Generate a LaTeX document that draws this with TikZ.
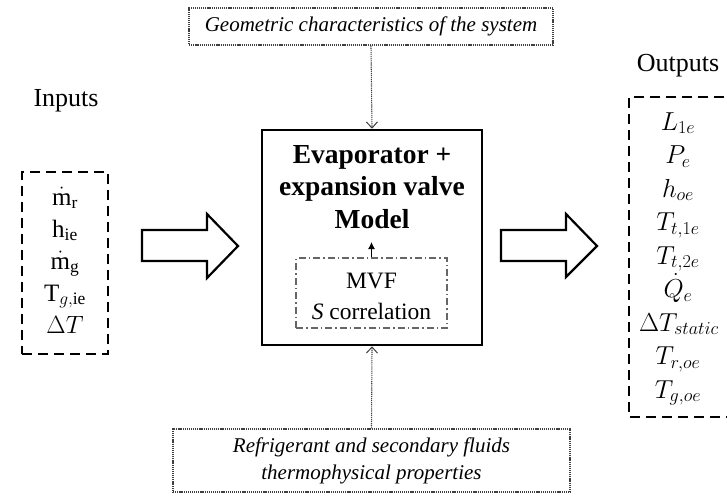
\RequirePackage{fix-cm}
\documentclass[tikz,border=0pt]{standalone}
\usepackage{fontspec}
\setmainfont{Liberation Serif}
\usetikzlibrary{arrows.meta}
\tikzset{
  iobox/.style={draw=black, line width=2pt, dash pattern=on 10pt off 6pt},
  mainbox/.style={draw=black, line width=2.6pt},
  dotbox/.style={draw=black!75, line width=1.1pt, dash pattern=on 1.2pt off 0.9pt},
  innerbox/.style={draw=black!60, line width=1.2pt, dash pattern=on 7pt off 3pt on 1.5pt off 3pt},
  dotconn/.style={draw=black!75, line width=1.1pt, dash pattern=on 1.2pt off 0.9pt, -{Straight Barb[length=6pt,width=11pt,line width=1pt]}},
  blockarrow/.style={draw=black, line width=2.2pt, line join=miter, fill=white},
  lbl/.style={font=\fontsize{26}{30}\selectfont},
  invar/.style={anchor=base, inner sep=0pt, font=\fontsize{25}{30}\selectfont},
  outvar/.style={anchor=base, inner sep=0pt, font=\fontsize{26}{30}\selectfont},
}
\begin{document}
\begin{tikzpicture}[x=1pt,y=-1pt]
\useasboundingbox (0,0) rectangle (727,495);
% labels
\node[lbl] (inlbl) at (66,101) {Inputs};
\node[lbl] (outlbl) at (678,66) {Outputs};
% input box
\node[iobox, minimum width=86pt, minimum height=182pt] (inbox) at (65,263) {};
\node[invar] (in1) at (65,205) {$\dot{\mathrm{m}}_{\mathrm{r}}$};
\node[invar] (in2) at (65,237) {$\mathrm{h}_{\mathrm{ie}}$};
\node[invar] (in3) at (65,269) {$\dot{\mathrm{m}}_{\mathrm{g}}$};
\node[invar] (in4) at (65,301) {$\mathrm{T}_{g,\mathrm{ie}}$};
\node[invar] (in5) at (65,333) {$\Delta T$};
% output box (right side runs off the picture)
\draw[iobox] (740,97) -- (629,97) -- (629,417) -- (740,417);
\coordinate (outbox) at (629,257);
\node[outvar] (out1) at (678,130) {$L_{1e}$};
\node[outvar] (out2) at (678,163.5) {$P_e$};
\node[outvar] (out3) at (678,197) {$h_{oe}$};
\node[outvar] (out4) at (678,230.5) {$T_{t,1e}$};
\node[outvar] (out5) at (678,264) {$T_{t,2e}$};
\node[outvar] (out6) at (678,297.5) {$\dot{Q}_e$};
\node[outvar] (out7) at (679,331) {$\Delta T_{static}$};
\node[outvar] (out8) at (678,364.5) {$T_{r,oe}$};
\node[outvar] (out9) at (678,398) {$T_{g,oe}$};
% main box
\node[mainbox, minimum width=220pt, minimum height=215pt] (main) at (372,237.5) {};
\node[align=center, inner sep=0pt, font=\fontsize{27.5}{32.5}\selectfont\bfseries, anchor=base] (title) at (372,228) {Evaporator +\\expansion valve\\Model};
% inner box
\node[innerbox, minimum width=151pt, minimum height=70pt] (inner) at (371.5,293) {};
\node[align=center, inner sep=0pt, font=\fontsize{23.5}{31}\selectfont] (innertxt) at (371.5,296.5) {MVF\\\textit{S} correlation};
\coordinate (innertip) at (371.5,242);
\draw[line width=1.2pt, -{Latex[length=7pt,width=7pt]}] (inner.north) -- (innertip);
% top and bottom boxes
\node[dotbox, minimum width=364pt, minimum height=37pt, font=\fontsize{21}{27}\selectfont\itshape] (geo) at (371,26.5) {Geometric characteristics of the system};
\node[dotbox, minimum width=397pt, minimum height=63pt, align=center, font=\fontsize{21}{27}\selectfont\itshape] (props) at (371.5,460.5) {Refrigerant and secondary fluids\\thermophysical properties};
\draw[dotconn] (geo.south) -- (main.north);
\draw[dotconn] (props.north) -- (main.south);
% block arrows
\draw[blockarrow] (142,230) -- (207,230) -- (207,214) -- (238,246) -- (207,278) -- (207,261) -- (142,261) -- cycle;
\draw[blockarrow] (501,230) -- (566,230) -- (566,214) -- (597,246) -- (566,277) -- (566,261) -- (501,261) -- cycle;
\end{tikzpicture}
\end{document}
